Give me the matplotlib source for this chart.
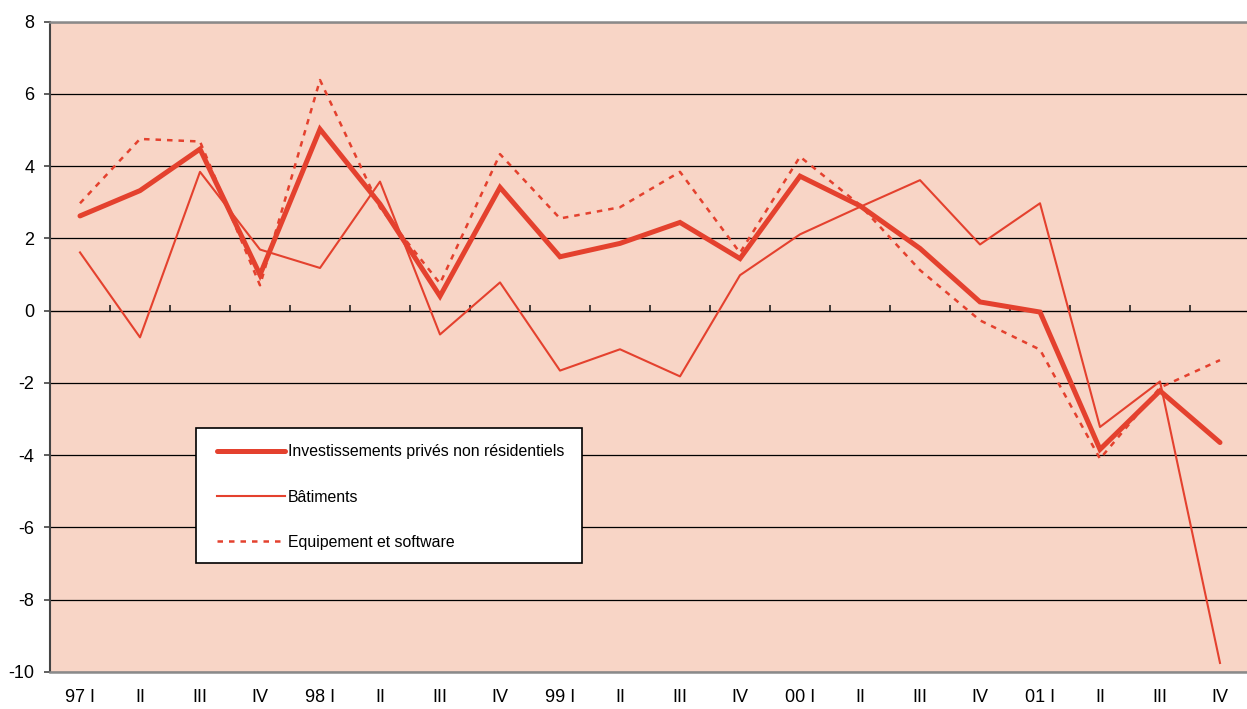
import numpy as np
import matplotlib.pyplot as plt
from matplotlib.patches import Rectangle

plt.rcParams['font.family'] = ['Liberation Sans', 'DejaVu Sans']
plt.rcParams['axes.unicode_minus'] = False

# Trimestres 1997 I - 2001 IV
quarters = ["97 I", "II", "III", "IV", "98 I", "II", "III", "IV",
            "99 I", "II", "III", "IV", "00 I", "II", "III", "IV",
            "01 I", "II", "III", "IV"]

invest_total = [2.62, 3.32, 4.47, 0.99, 5.02, 2.95, 0.40, 3.41,
                1.49, 1.86, 2.44, 1.44, 3.72, 2.90, 1.72, 0.24,
                -0.04, -3.84, -2.22, -3.65]
batiments = [1.61, -0.74, 3.84, 1.69, 1.18, 3.57, -0.66, 0.78,
             -1.66, -1.07, -1.82, 0.98, 2.11, 2.87, 3.61, 1.83,
             2.97, -3.22, -1.96, -9.75]
equipement = [2.97, 4.75, 4.68, 0.70, 6.38, 2.85, 0.75, 4.33,
              2.55, 2.86, 3.84, 1.60, 4.26, 2.92, 1.12, -0.27,
              -1.08, -4.10, -2.13, -1.37]

red = '#E4412E'
x = np.arange(len(quarters))

fig = plt.figure(figsize=(12.47, 7.09), dpi=100)
ax = fig.add_axes([50 / 1247, 37 / 709, 1200 / 1247, 650.5 / 709])
ax.set_facecolor('#F8D5C6')

ax.plot(x, invest_total, color=red, lw=3.6, solid_capstyle='round',
        solid_joinstyle='miter', label="Investissements privés non résidentiels")
ax.plot(x, batiments, color=red, lw=1.5, label="Bâtiments")
ax.plot(x, equipement, color=red, lw=1.8, linestyle=(0, (2.2, 2.4)),
        label="Equipement et software")

ax.set_xlim(-0.5, len(quarters) - 0.5)
ax.set_ylim(-10, 8)
ax.set_yticks(np.arange(-10, 9, 2))
ax.yaxis.grid(True, color='black', lw=0.9)
ax.set_axisbelow(True)

ax.set_xticks(x)
ax.set_xticklabels(quarters)
ax.tick_params(axis='x', length=0, pad=12, labelsize=13)
ax.tick_params(axis='y', direction='out', length=4.3, width=1.2,
               color='#444444', pad=7, labelsize=13)

for side in ['top', 'bottom']:
    ax.spines[side].set_color('#8a8a8a')
    ax.spines[side].set_linewidth(1.8)
ax.spines['left'].set_color('#444444')
ax.spines['left'].set_linewidth(1.5)
ax.spines['right'].set_visible(False)

# axe horizontal au niveau zéro avec graduations entre trimestres
zero_axis = ax.secondary_xaxis(10 / 18)
zero_axis.set_xticks(np.arange(-0.5, len(quarters), 1.0))
zero_axis.set_xticklabels([])
zero_axis.tick_params(direction='out', length=4.5, width=1.2, color='#222222')
zero_axis.spines['bottom'].set_color('black')
zero_axis.spines['bottom'].set_linewidth(1.0)

# cadre de la légende
ax.add_patch(Rectangle((0.122, 0.168), 0.321, 0.207, transform=ax.transAxes,
                       facecolor='white', edgecolor='black', lw=1.2, zorder=4.5))
leg = ax.legend(loc='upper left', bbox_to_anchor=(0.1392, 0.350),
                fontsize=11.45, frameon=False,
                handlelength=4.3, handletextpad=0.15, labelspacing=1.9,
                borderpad=0, borderaxespad=0)
leg.set_zorder(5)

fig.savefig('out.png', dpi=100)
